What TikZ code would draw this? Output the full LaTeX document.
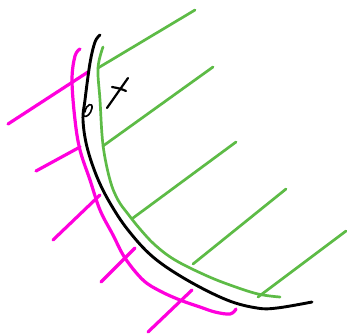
\documentclass[tikz,border=0pt]{standalone}
\begin{document}
\begin{tikzpicture}[x=1pt,y=-1pt,line cap=round,line join=round,
  blk/.style={draw=black,line width=2.9pt},
  grn/.style={draw=sgreen,line width=2.7pt},
  mag/.style={draw=smag,line width=3.2pt}]
\definecolor{sgreen}{HTML}{5DBB46}
\definecolor{smag}{HTML}{FF00DD}
\useasboundingbox[fill=white] (0,0) rectangle (347,335);
% green hatching
\draw[grn] (98,68) -- (195,10);
\draw[grn] (103,146) -- (213,67);
\draw[grn] (133,218) -- (236,142);
\draw[grn] (193,264) -- (286,189);
\draw[grn] (258,297) -- (346,231);
% green curve
\draw[grn] plot[smooth,tension=0.6] coordinates {(103,47) (98,68) (100,100) (103,145) (110,180) (118,200) (128,214) (140,229) (155,245) (175,260) (205,275) (230,285) (258,294) (280,297)};
% magenta hatching
\draw[mag] (8,124) -- (88,72);
\draw[mag] (36,171) -- (80,147);
\draw[mag] (53,240) -- (100,195);
\draw[mag] (101,282) -- (135,248);
\draw[mag] (148,332) -- (192,290);
% magenta curve
\draw[mag] plot[smooth,tension=0.6] coordinates {(80,49) (75,56) (72,80) (75,120) (80,150) (90,180) (100,210) (113,235) (125,258) (143,280) (160,291) (180,300) (200,307) (215,312) (230,314) (236,309)};
% black curve
\draw[blk] plot[smooth,tension=0.6] coordinates {(100,35) (95,42) (90,63) (85,100) (83,120) (87,147) (97,177) (110,203) (128,230) (153,257) (187,280) (227,300) (257,308) (277,308) (312,302)};
% small loop
\draw[draw=black,line width=1.6pt] (85,112) .. controls (86,104) and (93,102) .. (92,108) .. controls (91,114) and (86,118) .. (84,116);
% x mark
\draw[draw=black,line width=2.2pt] (107,108) -- (128,78);
\draw[draw=black,line width=2.2pt] (112,87) .. controls (118,88) and (122,89) .. (126,91);
\end{tikzpicture}
\end{document}
